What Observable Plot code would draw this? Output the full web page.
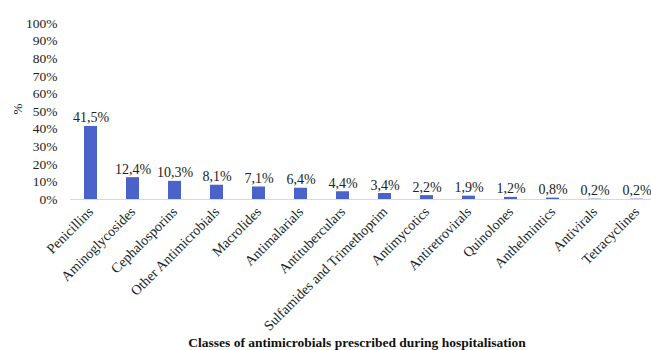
<!DOCTYPE html>
<html>
<head>
<meta charset="utf-8">
<script src="https://cdn.jsdelivr.net/npm/d3@7"></script>
<script src="https://cdn.jsdelivr.net/npm/@observablehq/plot@0.6"></script>
<style>
  html, body { margin: 0; padding: 0; background: #fff; }
  #chart { width: 651px; height: 350px; overflow: hidden; }
</style>
</head>
<body>
<div id="chart"></div>
<script>
// Antimicrobial classes prescribed during hospitalisation (share of prescriptions)
const classes = [
  "Penicillins", "Aminoglycosides", "Cephalosporins", "Other Antimicrobials",
  "Macrolides", "Antimalarials", "Antituberculars", "Sulfamides and Trimethoprim",
  "Antimycotics", "Antiretrovirals", "Quinolones", "Anthelmintics",
  "Antivirals", "Tetracyclines"
];
const shares = [41.5, 12.4, 10.3, 8.1, 7.1, 6.4, 4.4, 3.4, 2.2, 1.9, 1.2, 0.8, 0.2, 0.2];
const yTicks = [0, 10, 20, 30, 40, 50, 60, 70, 80, 90, 100];

const rows = classes.map((c, i) => ({cls: c, pct: shares[i]}));
const fmt = v => v.toFixed(1).replace(".", ",") + "%";
const font = "'Liberation Serif', 'Times New Roman', serif";

const chart = Plot.plot({
  width: 651,
  height: 350,
  marginTop: 23,
  marginBottom: 151,
  marginLeft: 70,
  marginRight: 0,
  style: {fontFamily: font, fontSize: "13px", color: "#222", background: "#fff"},
  x: {domain: classes, range: [70, 658], paddingInner: 0.69, paddingOuter: 0.345, label: null},
  y: {domain: [0, 100], label: null},
  marks: [
    Plot.axisY({ticks: yTicks, tickSize: 0, tickPadding: 13, tickFormat: d => d + "%", label: null, fontSize: 13.5}),
    Plot.axisX({tickSize: 0, tickPadding: 10, tickRotate: -45, label: null, fontSize: 14}),
    Plot.barY(rows, {x: "cls", y: "pct", fill: "#4a63c9"}),
    Plot.ruleY([0], {stroke: "#d9d9d9", strokeWidth: 1}),
    Plot.text(rows, {x: "cls", y: "pct", text: d => fmt(d.pct), dy: -4, lineAnchor: "bottom", fontSize: 14, fill: "#222"}),
    Plot.text(["%"], {frameAnchor: "left", dx: -53, dy: 3, rotate: -90, fontSize: 13, fill: "#222"}),
    Plot.text(["Classes of antimicrobials prescribed during hospitalisation"],
      {frameAnchor: "bottom", dx: -4, dy: 147, fontWeight: "bold", fontSize: 13.5, fill: "#111", textAnchor: "middle"})
  ]
});
document.getElementById("chart").appendChild(chart);
</script>
</body>
</html>
